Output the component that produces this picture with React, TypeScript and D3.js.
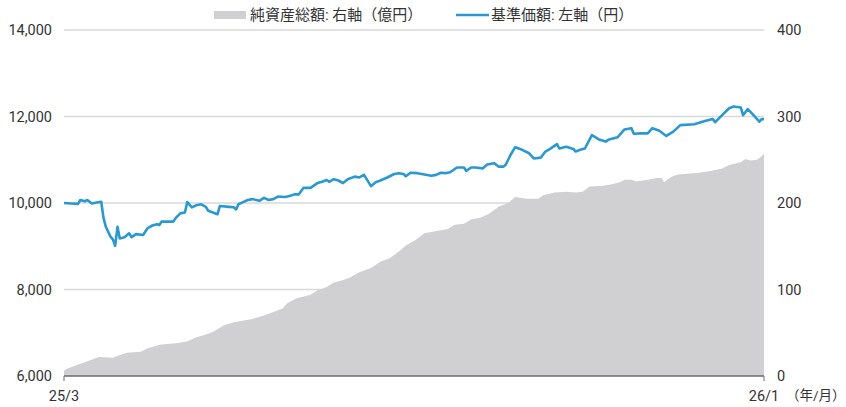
import React from "react";
import * as d3 from "d3";

// 基準価額 (円) — traced vertices
const navDates = [
  "2025-03-24", "2025-03-27", "2025-03-30", "2025-03-31", "2025-04-02", "2025-04-03", "2025-04-05", "2025-04-07",
  "2025-04-09", "2025-04-10", "2025-04-11", "2025-04-13", "2025-04-14", "2025-04-15", "2025-04-16", "2025-04-17",
  "2025-04-19", "2025-04-21", "2025-04-22", "2025-04-24", "2025-04-27", "2025-04-29", "2025-05-01", "2025-05-03",
  "2025-05-04", "2025-05-05", "2025-05-10", "2025-05-11", "2025-05-13", "2025-05-15", "2025-05-16", "2025-05-18",
  "2025-05-20", "2025-05-22", "2025-05-24", "2025-05-25", "2025-05-27", "2025-05-29", "2025-05-30", "2025-06-03",
  "2025-06-05", "2025-06-06", "2025-06-07", "2025-06-09", "2025-06-11", "2025-06-13", "2025-06-16", "2025-06-18",
  "2025-06-20", "2025-06-22", "2025-06-24", "2025-06-27", "2025-06-29", "2025-07-01", "2025-07-03", "2025-07-05",
  "2025-07-08", "2025-07-11", "2025-07-13", "2025-07-15", "2025-07-16", "2025-07-18", "2025-07-20", "2025-07-22",
  "2025-07-24", "2025-07-27", "2025-07-29", "2025-07-31", "2025-08-03", "2025-08-05", "2025-08-07", "2025-08-10",
  "2025-08-13", "2025-08-15", "2025-08-17", "2025-08-18", "2025-08-20", "2025-08-23", "2025-08-26", "2025-08-29",
  "2025-08-31", "2025-09-02", "2025-09-04", "2025-09-06", "2025-09-09", "2025-09-12", "2025-09-13", "2025-09-15",
  "2025-09-17", "2025-09-20", "2025-09-22", "2025-09-25", "2025-09-27", "2025-09-29", "2025-09-30", "2025-10-02",
  "2025-10-04", "2025-10-07", "2025-10-10", "2025-10-12", "2025-10-15", "2025-10-17", "2025-10-19", "2025-10-22",
  "2025-10-23", "2025-10-26", "2025-10-29", "2025-10-30", "2025-11-01", "2025-11-03", "2025-11-06", "2025-11-09",
  "2025-11-12", "2025-11-13", "2025-11-17", "2025-11-20", "2025-11-23", "2025-11-24", "2025-11-27", "2025-11-30",
  "2025-12-02", "2025-12-05", "2025-12-08", "2025-12-11", "2025-12-14", "2025-12-20", "2025-12-25", "2025-12-28",
  "2025-12-29", "2026-01-01", "2026-01-04", "2026-01-06", "2026-01-09", "2026-01-10", "2026-01-12", "2026-01-14",
  "2026-01-17", "2026-01-18", "2026-01-19",
];
const navValues = [
  10000, 9990, 9980, 10070, 10040, 10070, 9990, 10010,
  10030, 9650, 9450, 9220, 9160, 9010, 9450, 9180,
  9210, 9300, 9210, 9280, 9260, 9420, 9480, 9510,
  9490, 9570, 9570, 9650, 9760, 9780, 10020, 9900,
  9950, 9970, 9910, 9820, 9780, 9740, 9930, 9910,
  9900, 9850, 9970, 10020, 10070, 10090, 10050, 10120,
  10070, 10090, 10150, 10140, 10160, 10200, 10200, 10350,
  10350, 10460, 10490, 10530, 10490, 10550, 10520, 10460,
  10550, 10610, 10590, 10650, 10390, 10480, 10520, 10590,
  10670, 10690, 10670, 10620, 10700, 10690, 10660, 10630,
  10650, 10700, 10690, 10710, 10820, 10820, 10740, 10820,
  10820, 10800, 10890, 10920, 10840, 10840, 10890, 11110,
  11290, 11230, 11150, 11030, 11050, 11190, 11250, 11360,
  11260, 11300, 11250, 11190, 11230, 11260, 11570, 11470,
  11420, 11460, 11520, 11700, 11730, 11600, 11610, 11610,
  11730, 11670, 11550, 11650, 11800, 11820, 11900, 11940,
  11870, 12030, 12190, 12230, 12210, 12030, 12170, 12060,
  11880, 11940, 11940,
];

// 純資産総額 (億円)
const aumDates = [
  "2025-03-24", "2025-03-25", "2025-03-27", "2025-03-29", "2025-04-01", "2025-04-04", "2025-04-08", "2025-04-14",
  "2025-04-16", "2025-04-20", "2025-04-26", "2025-04-29", "2025-05-04", "2025-05-11", "2025-05-16", "2025-05-19",
  "2025-05-23", "2025-05-27", "2025-06-01", "2025-06-05", "2025-06-13", "2025-06-18", "2025-06-22", "2025-06-26",
  "2025-06-28", "2025-07-02", "2025-07-08", "2025-07-11", "2025-07-15", "2025-07-18", "2025-07-22", "2025-07-25",
  "2025-07-29", "2025-08-03", "2025-08-07", "2025-08-11", "2025-08-15", "2025-08-18", "2025-08-22", "2025-08-26",
  "2025-08-30", "2025-09-05", "2025-09-08", "2025-09-12", "2025-09-15", "2025-09-19", "2025-09-23", "2025-09-27",
  "2025-10-01", "2025-10-04", "2025-10-09", "2025-10-14", "2025-10-16", "2025-10-21", "2025-10-26", "2025-10-30",
  "2025-11-02", "2025-11-05", "2025-11-11", "2025-11-15", "2025-11-18", "2025-11-20", "2025-11-23", "2025-11-25",
  "2025-11-30", "2025-12-04", "2025-12-06", "2025-12-07", "2025-12-10", "2025-12-13", "2025-12-22", "2025-12-27",
  "2026-01-01", "2026-01-04", "2026-01-09", "2026-01-11", "2026-01-13", "2026-01-16", "2026-01-18", "2026-01-19",
];
const aumValues = [
  6, 8, 10, 12, 15, 18, 22, 21,
  23, 27, 28, 32, 36, 38, 40, 44,
  47, 51, 59, 62, 66, 70, 74, 78,
  84, 90, 94, 99, 103, 108, 111, 114,
  120, 125, 132, 136, 144, 151, 157, 165,
  167, 170, 175, 176, 181, 183, 188, 196,
  200, 207, 205, 205, 209, 212, 213, 212,
  213, 219, 220, 222, 224, 227, 227, 225,
  227, 229, 229, 224, 230, 233, 235, 237,
  240, 244, 247, 251, 249, 250, 254, 257,
];

const leftTicks = [6000, 8000, 10000, 12000, 14000];
const rightTicks = [0, 100, 200, 300, 400];
const xLabels = ["25/3", "26/1"];
const xUnit = "（年/月）";
const legendLabels = ["純資産総額: 右軸（億円）", "基準価額: 左軸（円）"];

const W = 846;
const H = 407;
const margin = { top: 30, right: 82, bottom: 31, left: 64 };
const FONT = "Roboto, 'Noto Sans CJK JP', sans-serif";
const BLUE = "#2a98d2";
const GRAY = "#d0d0d2";

export default function App() {
  const parse = d3.timeParse("%Y-%m-%d");
  const nav = navDates.map((d, i) => ({ date: parse(d)!, v: navValues[i] }));
  const aum = aumDates.map((d, i) => ({ date: parse(d)!, v: aumValues[i] }));

  const x = d3
    .scaleTime()
    .domain([nav[0].date, nav[nav.length - 1].date])
    .range([margin.left, W - margin.right]);
  const yL = d3.scaleLinear().domain([6000, 14000]).range([H - margin.bottom, margin.top]);
  const yR = d3.scaleLinear().domain([0, 400]).range([H - margin.bottom, margin.top]);

  const area = d3
    .area<{ date: Date; v: number }>()
    .x((d) => x(d.date))
    .y0(yR(0))
    .y1((d) => yR(d.v));
  const line = d3
    .line<{ date: Date; v: number }>()
    .x((d) => x(d.date))
    .y((d) => yL(d.v));

  const x0 = margin.left;
  const x1 = W - margin.right;
  const base = H - margin.bottom;

  return (
    <div style={{ position: "absolute", left: 0, top: 0 }}>
      <svg width={W} height={H} style={{ display: "block", background: "#fff" }} fontFamily={FONT}>
        {leftTicks.slice(1).map((t) => (
          <line key={t} x1={x0} x2={x1} y1={yL(t)} y2={yL(t)} stroke="#d9d9d9" strokeWidth={1.3} />
        ))}
        <path d={area(aum)!} fill={GRAY} />
        <line x1={x0} x2={x1} y1={base} y2={base} stroke="#6b6b6b" strokeWidth={1.3} />
        <line x1={x0} x2={x0} y1={base} y2={base + 5} stroke="#6b6b6b" strokeWidth={1} />
        <line x1={x1} x2={x1} y1={base} y2={base + 5} stroke="#6b6b6b" strokeWidth={1} />
        <path d={line(nav)!} fill="none" stroke={BLUE} strokeWidth={2.6} strokeLinejoin="round" />

        {leftTicks.map((t) => (
          <text key={t} x={52} y={yL(t)} dy="0.36em" textAnchor="end" fontSize={14.5} fill="#333">
            {d3.format(",")(t)}
          </text>
        ))}
        {rightTicks.map((t) => (
          <text key={t} x={777} y={yR(t)} dy="0.36em" textAnchor="start" fontSize={14.5} fill="#333">
            {t}
          </text>
        ))}
        <text x={x0} y={401} textAnchor="middle" fontSize={14.5} fill="#333">{xLabels[0]}</text>
        <text x={x1} y={401} textAnchor="middle" fontSize={14.5} fill="#333">{xLabels[1]}</text>
        <text x={786} y={400} fontSize={13.5} fill="#333">{xUnit}</text>

        <rect x={214} y={11} width={32} height={8} fill={GRAY} />
        <text x={250} y={15} dy="0.36em" fontSize={15} fill="#333">{legendLabels[0]}</text>
        <line x1={456} x2={489} y1={15} y2={15} stroke={BLUE} strokeWidth={2.6} />
        <text x={491} y={15} dy="0.36em" fontSize={15} fill="#333">{legendLabels[1]}</text>
      </svg>
    </div>
  );
}
